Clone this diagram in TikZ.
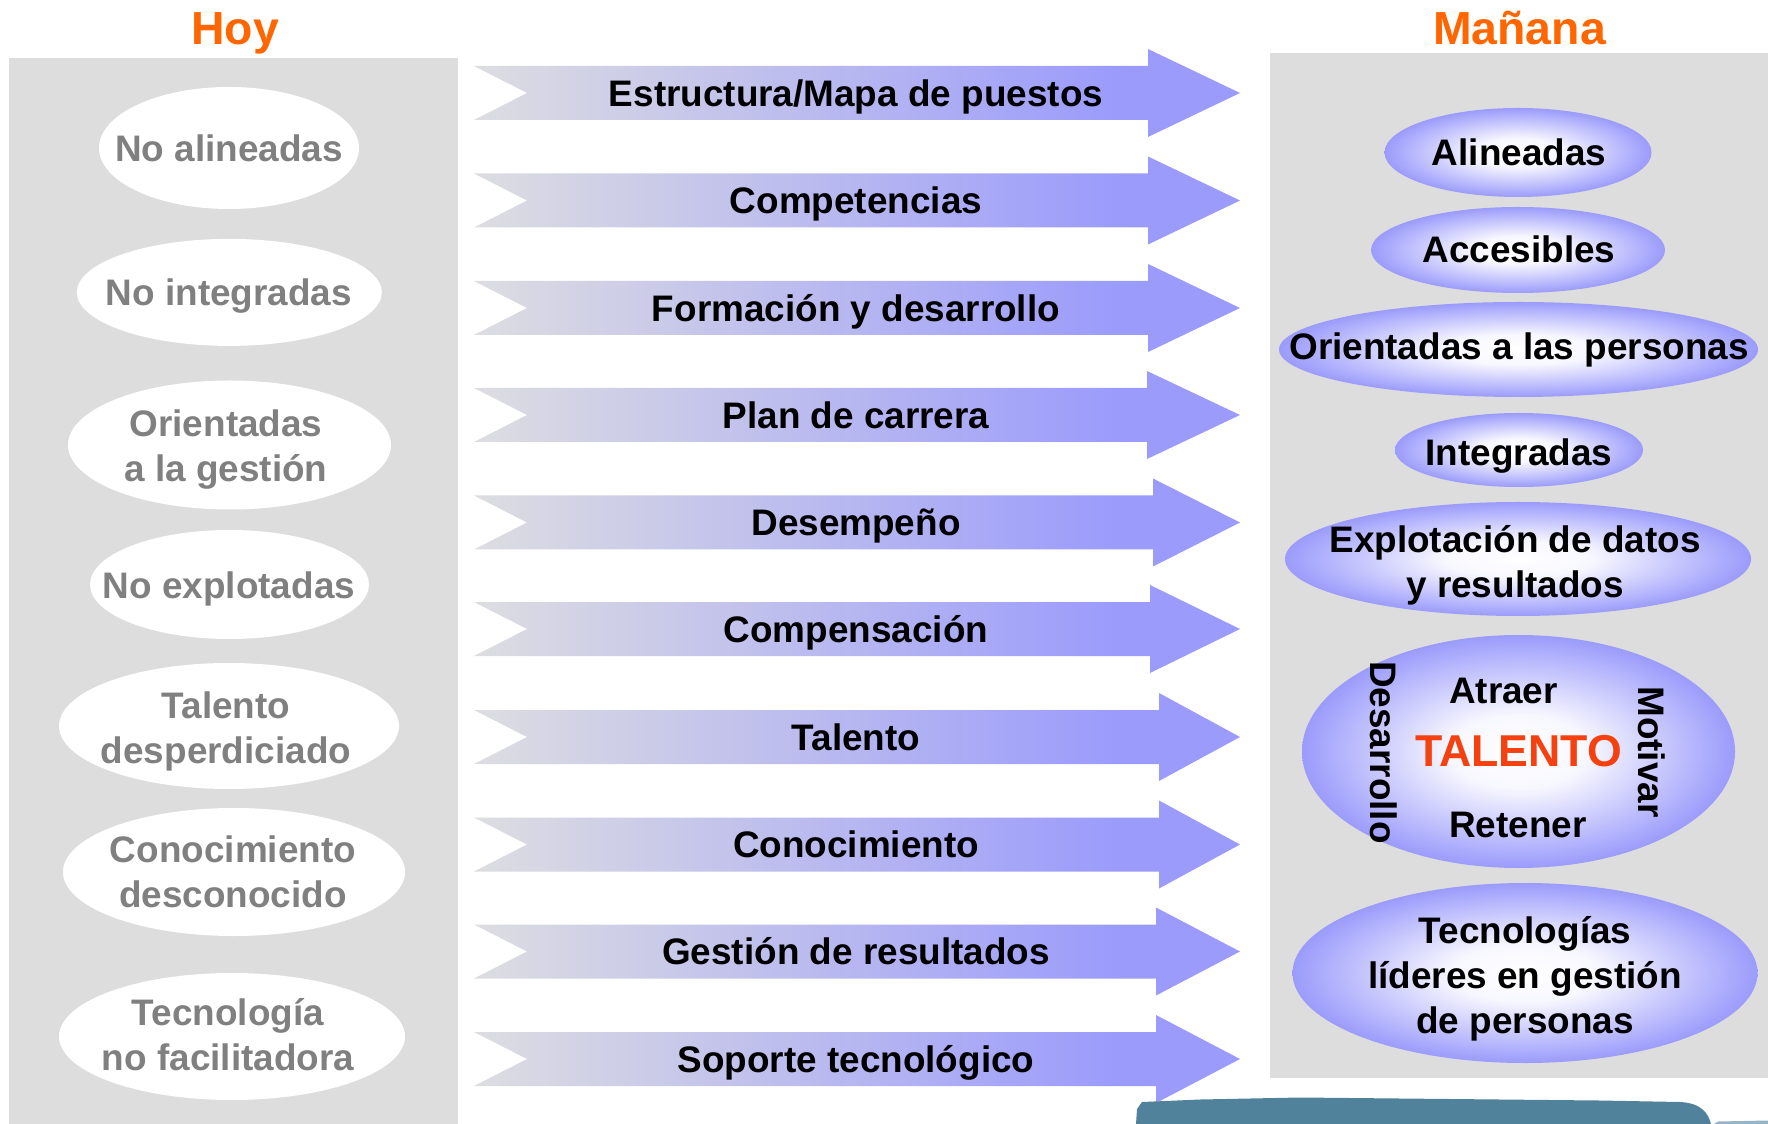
\documentclass[tikz,border=0pt]{standalone}
\usepackage{fontspec}
\setmainfont{Liberation Sans}
\usepackage{xcolor}
\usetikzlibrary{shapes.geometric}

\definecolor{panelgray}{RGB}{221,221,221}
\definecolor{bargray}{RGB}{221,221,225}
\definecolor{peri}{RGB}{155,155,252}
\definecolor{hoygray}{RGB}{128,128,128}
\definecolor{titleorange}{RGB}{255,102,0}
\definecolor{talentored}{RGB}{245,64,16}
\definecolor{brushblue}{RGB}{80,130,155}

\pgfdeclareradialshading{glow}{\pgfpoint{0bp}{0bp}}{color(0bp)=(white); color(8bp)=(white!92!peri); color(18bp)=(peri!62!white); color(25bp)=(peri); color(50bp)=(peri)}
\pgfdeclarehorizontalshading{barfade}{100bp}{color(0bp)=(bargray); color(25bp)=(bargray); color(67bp)=(peri); color(100bp)=(peri)}

\tikzset{
	panel/.style={rectangle, fill=panelgray, inner sep=0pt},
	oldoval/.style={ellipse, fill=white, inner sep=0pt},
	newoval/.style={ellipse, shade, shading=glow, inner sep=0pt},
	bar/.style={shade, shading=barfade},
	oldtext/.style={text=hoygray, align=center, font=\bfseries\fontsize{10.5}{12.8}\selectfont},
	newtext/.style={text=black, align=center, font=\bfseries\fontsize{10.5}{12.8}\selectfont},
	bartext/.style={text=black, font=\bfseries\fontsize{10.5}{12.8}\selectfont},
	heading/.style={text=titleorange, anchor=base, font=\bfseries\fontsize{13.2}{15}\selectfont},
}

\begin{document}
\begin{tikzpicture}
	\path[use as bounding box, fill=white] (0,0) rectangle (17.68,-11.24);

	% panels and titles
	\node[panel, minimum width=4.49cm, minimum height=10.66cm] (hoyPanel) at (2.335,-5.913) {};
	\node[panel, minimum width=4.98cm, minimum height=10.25cm] (mananaPanel) at (15.19,-5.657) {};
	\node[heading] (hoy) at (2.35,-0.45) {Hoy};
	\node[heading] (manana) at (15.195,-0.45) {Mañana};

	% bars
	\shade[bar] (4.74,-0.66) -- (11.48,-0.66) -- (11.48,-0.49) -- (12.40,-0.93) -- (11.48,-1.37) -- (11.48,-1.20) -- (4.74,-1.20) -- (5.27,-0.93) -- cycle;
	\shade[bar] (4.74,-1.735) -- (11.48,-1.735) -- (11.48,-1.565) -- (12.40,-2.005) -- (11.48,-2.445) -- (11.48,-2.275) -- (4.74,-2.275) -- (5.27,-2.005) -- cycle;
	\shade[bar] (4.74,-2.81) -- (11.48,-2.81) -- (11.48,-2.64) -- (12.40,-3.08) -- (11.48,-3.52) -- (11.48,-3.35) -- (4.74,-3.35) -- (5.27,-3.08) -- cycle;
	\shade[bar] (4.74,-3.88) -- (11.47,-3.88) -- (11.47,-3.71) -- (12.40,-4.15) -- (11.47,-4.59) -- (11.47,-4.42) -- (4.74,-4.42) -- (5.27,-4.15) -- cycle;
	\shade[bar] (4.74,-4.955) -- (11.53,-4.955) -- (11.53,-4.785) -- (12.40,-5.225) -- (11.53,-5.665) -- (11.53,-5.495) -- (4.74,-5.495) -- (5.27,-5.225) -- cycle;
	\shade[bar] (4.74,-6.02) -- (11.50,-6.02) -- (11.50,-5.85) -- (12.40,-6.29) -- (11.50,-6.73) -- (11.50,-6.56) -- (4.74,-6.56) -- (5.27,-6.29) -- cycle;
	\shade[bar] (4.74,-7.10) -- (11.59,-7.10) -- (11.59,-6.93) -- (12.40,-7.37) -- (11.59,-7.81) -- (11.59,-7.64) -- (4.74,-7.64) -- (5.27,-7.37) -- cycle;
	\shade[bar] (4.74,-8.175) -- (11.59,-8.175) -- (11.59,-8.005) -- (12.40,-8.445) -- (11.59,-8.885) -- (11.59,-8.715) -- (4.74,-8.715) -- (5.27,-8.445) -- cycle;
	\shade[bar] (4.74,-9.245) -- (11.56,-9.245) -- (11.56,-9.075) -- (12.40,-9.515) -- (11.56,-9.955) -- (11.56,-9.785) -- (4.74,-9.785) -- (5.27,-9.515) -- cycle;
	\shade[bar] (4.74,-10.32) -- (11.56,-10.32) -- (11.56,-10.15) -- (12.40,-10.59) -- (11.56,-11.03) -- (11.56,-10.86) -- (4.74,-10.86) -- (5.27,-10.59) -- cycle;

	\node[bartext] (A1) at (8.56,-0.965) {Estructura/Mapa de puestos};
	\node[bartext] (A2) at (8.56,-2.04) {Competencias};
	\node[bartext] (A3) at (8.56,-3.115) {Formación y desarrollo};
	\node[bartext] (A4) at (8.56,-4.15) {Plan de carrera};
	\node[bartext] (A5) at (8.56,-5.26) {Desempeño};
	\node[bartext] (A6) at (8.56,-6.325) {Compensación};
	\node[bartext] (A7) at (8.56,-7.37) {Talento};
	\node[bartext] (A8) at (8.56,-8.445) {Conocimiento};
	\node[bartext] (A9) at (8.56,-9.515) {Gestión de resultados};
	\node[bartext] (A10) at (8.56,-10.625) {Soporte tecnológico};

	% today
	\node[oldoval, minimum width=2.60cm, minimum height=1.22cm] (H1) at (2.29,-1.48) {};
	\node[oldoval, minimum width=3.05cm, minimum height=1.07cm] (H2) at (2.293,-2.924) {};
	\node[oldoval, minimum width=3.23cm, minimum height=1.29cm] (H3) at (2.295,-4.45) {};
	\node[oldoval, minimum width=2.79cm, minimum height=1.09cm] (H4) at (2.295,-5.845) {};
	\node[oldoval, minimum width=3.40cm, minimum height=1.26cm] (H5) at (2.29,-7.26) {};
	\node[oldoval, minimum width=3.42cm, minimum height=1.28cm] (H6) at (2.34,-8.72) {};
	\node[oldoval, minimum width=3.46cm, minimum height=1.27cm] (H7) at (2.32,-10.365) {};
	\node[oldtext] (H1t) at (2.29,-1.48) {No alineadas};
	\node[oldtext] (H2t) at (2.29,-2.96) {No integradas};
	\node[oldtext] (H3t) at (2.26,-4.495) {Orientadas\\a la gestión};
	\node[oldtext] (H4t) at (2.29,-5.89) {No explotadas};
	\node[oldtext] (H5t) at (2.26,-7.31) {Talento\\desperdiciado};
	\node[oldtext] (H6t) at (2.33,-8.72) {Conocimiento\\desconocido};
	\node[oldtext] (H7t) at (2.28,-10.35) {Tecnología\\no facilitadora};

	% tomorrow
	\node[newoval, minimum width=2.67cm, minimum height=0.89cm] (M1) at (15.18,-1.525) {};
	\node[newoval, minimum width=2.94cm, minimum height=0.86cm] (M2) at (15.18,-2.50) {};
	\node[newoval, minimum width=4.79cm, minimum height=0.95cm] (M3) at (15.185,-3.495) {};
	\node[newoval, minimum width=2.48cm, minimum height=0.74cm] (M4) at (15.19,-4.50) {};
	\node[newoval, minimum width=4.66cm, minimum height=1.14cm] (M5) at (15.18,-5.59) {};
	\node[newoval, minimum width=4.33cm, minimum height=2.33cm] (M6) at (15.185,-7.515) {};
	\node[newoval, minimum width=4.65cm, minimum height=1.80cm] (M7) at (15.25,-9.73) {};
	\node[newtext] (M1t) at (15.19,-1.525) {Alineadas};
	\node[newtext] (M2t) at (15.19,-2.49) {Accesibles};
	\node[newtext] (M3t) at (15.19,-3.495) {Orientadas a las personas};
	\node[newtext] (M4t) at (15.19,-4.56) {Integradas};
	\node[newtext] (M5t) at (15.15,-5.65) {Explotación de datos\\y resultados};
	\node[newtext] (M7t) at (15.25,-9.785) {Tecnologías\\líderes en gestión\\de personas};

	\node[newtext] (atraer) at (15.035,-6.905) {Atraer};
	\node[newtext, text=talentored, font=\bfseries\fontsize{12.7}{15}\selectfont] (talento) at (15.185,-7.515) {TALENTO};
	\node[newtext] (retener) at (15.18,-8.245) {Retener};
	\node[newtext, rotate=-90] (desarrollo) at (13.84,-7.525) {Desarrollo};
	\node[newtext, rotate=-90] (motivar) at (16.515,-7.52) {Motivar};

	% brush stroke
	\fill[brushblue] (11.36,-11.24) -- (11.37,-11.09) -- (11.42,-11.02) -- (12.00,-10.995) -- (13.00,-10.975) -- (14.00,-10.985) -- (15.00,-10.995) -- (16.00,-11.005) -- (16.80,-11.02) .. controls (17.00,-11.03) and (17.08,-11.12) .. (17.11,-11.24) -- cycle;
	\fill[brushblue!60!white] (17.14,-11.24) -- (17.18,-11.215) -- (17.68,-11.205) -- (17.68,-11.24) -- cycle;
\end{tikzpicture}
\end{document}
